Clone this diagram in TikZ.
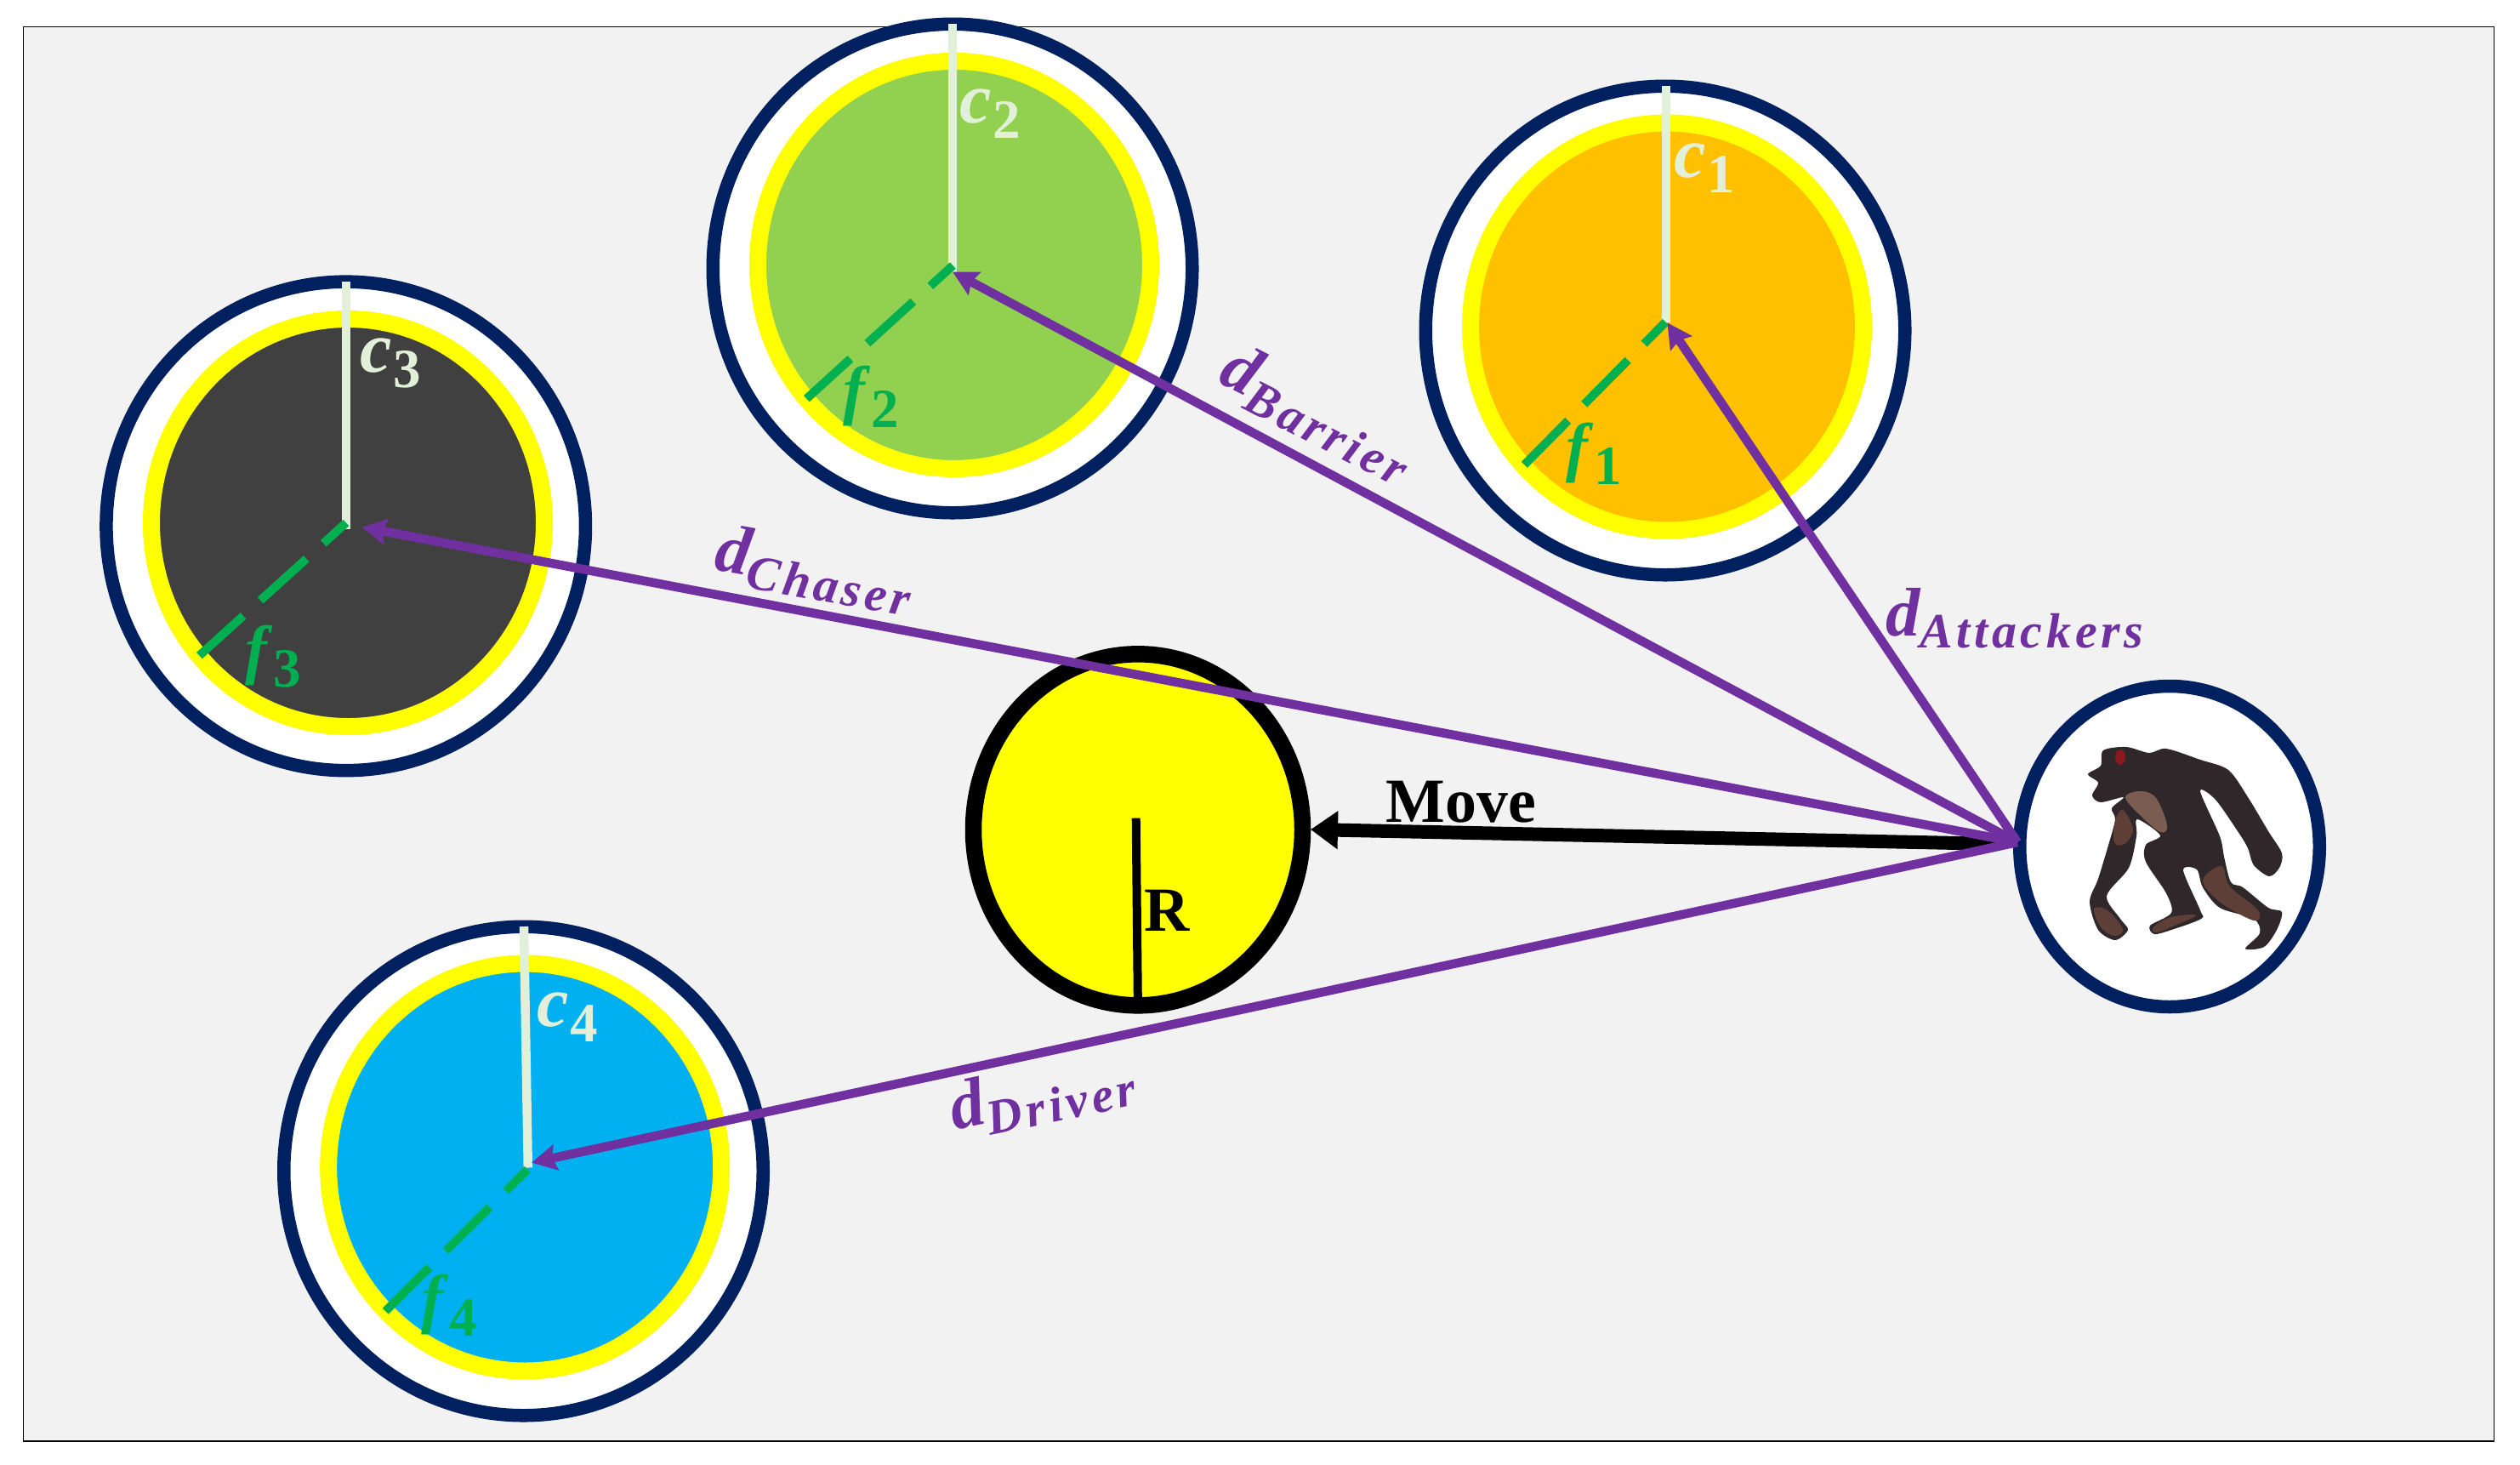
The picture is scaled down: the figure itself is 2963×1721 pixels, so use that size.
\documentclass[tikz,border=0pt]{standalone}
\usepackage{fontspec}
\setmainfont{Liberation Serif}
\newfontfamily\subfont[LetterSpace=8]{Liberation Serif}
\usetikzlibrary{shapes.geometric, arrows.meta}

\definecolor{navyline}{HTML}{002060}
\definecolor{ringcol}{RGB}{255,255,0}
\definecolor{capcol}{HTML}{E2F0D9}
\definecolor{fitcol}{HTML}{00B050}
\definecolor{distcol}{HTML}{7030A0}
\definecolor{backcol}{HTML}{F2F2F2}
\definecolor{attcol}{HTML}{FFC000}
\definecolor{barcol}{HTML}{92D050}
\definecolor{chacol}{HTML}{404040}
\definecolor{drvcol}{HTML}{00B0F0}
\definecolor{furcol}{HTML}{2F2729}
\definecolor{skincol}{HTML}{5E3F38}
\definecolor{chestcol}{HTML}{7A5C50}
\definecolor{earcol}{HTML}{8A1A20}

\newcommand{\smalllab}[2]{#1\raisebox{-10.5pt}{\hspace{1pt}\fontsize{37}{37}\selectfont\upshape #2}}
\newcommand{\distlab}[2]{#1\raisebox{-8.4pt}{\fontsize{33}{33}\subfont\bfseries\itshape #2}}

\tikzset{
  outerring/.style={ellipse, draw=navyline, line width=3.1mm, fill=white, inner sep=0pt, minimum width=112.7mm, minimum height=114.9mm},
  fieldring/.style={ellipse, draw=ringcol, line width=4mm, inner sep=0pt, minimum width=92.4mm, minimum height=95.8mm},
  capline/.style={draw=capcol, line width=2.1mm},
  fitline/.style={draw=fitcol, line width=2mm, dash pattern=on 14.6mm off 5.4mm, dash phase=7.4mm},
  distline/.style={draw=distcol, line width=2.1mm, -{Stealth[length=5.8mm, width=6mm, inset=0.8mm]}},
  caplab/.style={anchor=base west, inner sep=0pt, text=capcol, font=\fontsize{48}{50}\selectfont\bfseries\itshape},
  fitlab/.style={anchor=base west, inner sep=0pt, text=fitcol, font=\fontsize{44}{50}\selectfont\bfseries\itshape},
  distlab/.style={anchor=base west, inner sep=0pt, text=distcol, font=\fontsize{46}{50}\selectfont\bfseries\itshape},
  boldlab/.style={anchor=base west, inner sep=0pt, font=\fontsize{42}{46}\selectfont\bfseries}
}

\begin{document}
\begin{tikzpicture}[x=0.2mm, y=-0.2mm]
\useasboundingbox (0,0) rectangle (2963,1721);
\node[draw=black, line width=0.25mm, fill=backcol, inner sep=0pt, minimum width=581mm, minimum height=332.5mm] (frame) at (1480,862.7) {};

% attackers
\node[outerring] (outer1) at (1958,388.5) {};
\node[fieldring, fill=attcol] (field1) at (1960,384) {};
% barrier
\node[outerring] (outer2) at (1120,315.5) {};
\node[fieldring, fill=barcol] (field2) at (1122,311.4) {};
% chaser
\node[outerring] (outer3) at (406.7,618.4) {};
\node[fieldring, fill=chacol] (field3) at (409,614.5) {};
% driver
\node[outerring] (outer4) at (615.5,1376.5) {};
\node[fieldring, fill=drvcol] (field4) at (617.2,1372) {};

% prey and chimp
\node[ellipse, draw=black, line width=3.9mm, fill=ringcol, inner sep=0pt, minimum width=77.4mm, minimum height=82.6mm] (prey) at (1338,975.3) {};
\node[ellipse, draw=navyline, line width=3.1mm, fill=white, inner sep=0pt, minimum width=70.5mm, minimum height=75.4mm] (chimp) at (2551,995) {};

% chimp figure
\fill[furcol] plot[smooth cycle, tension=0.5] coordinates {(2473,882) (2500,878) (2527,885) (2547,880) (2587,893) (2620,905) (2643,937) (2667,977) (2683,1003) (2680,1020) (2668,1030) (2650,1017) (2643,997) (2633,980) (2605,940) (2587,930) (2610,983) (2615,1007) (2623,1037) (2637,1043) (2667,1067) (2683,1072) (2677,1093) (2662,1113) (2640,1115) (2657,1097) (2650,1080) (2610,1067) (2590,1043) (2583,1022) (2567,1023) (2587,1070) (2588,1080) (2553,1093) (2533,1098) (2528,1088) (2553,1073) (2547,1050) (2523,1013) (2523,993) (2540,982) (2513,963) (2512,983) (2503,1020) (2477,1053) (2493,1080) (2502,1093) (2487,1105) (2467,1093) (2457,1060) (2467,1033) (2480,990) (2487,963) (2483,950) (2497,937) (2470,943) (2460,935) (2467,920) (2455,910) (2470,900)};
\fill[chestcol] plot[smooth cycle, tension=0.6] coordinates {(2499,937) (2517,930) (2535,938) (2548,970) (2540,978) (2516,958)};
\fill[skincol] plot[smooth cycle, tension=0.6] coordinates {(2590,1035) (2612,1018) (2622,1042) (2655,1070) (2650,1082) (2610,1060)};
\fill[skincol] plot[smooth cycle, tension=0.6] coordinates {(2462,1068) (2478,1070) (2496,1092) (2486,1100) (2470,1090)};
\fill[skincol] plot[smooth cycle, tension=0.6] coordinates {(2532,1090) (2552,1078) (2582,1076) (2552,1090) (2535,1096)};
\fill[skincol] plot[smooth cycle, tension=0.6] coordinates {(2487,965) (2496,952) (2508,975) (2498,992) (2486,990)};
\fill[earcol] (2493,890) ellipse (6 and 9);

% moving direction
\coordinate (moveend) at (2350,992);
\coordinate (preyedge) at (1541,975);
\draw[draw=black, line width=3.2mm, -{Stealth[length=6.4mm, width=8.6mm, inset=0mm]}] (moveend) -- (preyedge);
\coordinate (preytop) at (1335.7,961.7);
\coordinate (preyfoot) at (1337.8,1174);
\draw[draw=black, line width=2mm] (preytop) -- (preyfoot);
\node[boldlab] (movelab) at (1629.6,966.7) {Move};
\node[boldlab] (rlab) at (1345,1094) {R};

% caps and fitness
\coordinate (cap1a) at (1959,100.5);
\coordinate (cap1b) at (1959,378.5);
\coordinate (fit1a) at (1958.4,378.5);
\coordinate (fit1b) at (1792,546.6);
\draw[capline] (cap1a) -- (cap1b);
\draw[fitline] (fit1a) -- (fit1b);
\coordinate (cap2a) at (1120,27.7);
\coordinate (cap2b) at (1120,319.5);
\coordinate (fit2a) at (1120.4,312);
\coordinate (fit2b) at (948.4,468.6);
\draw[capline] (cap2a) -- (cap2b);
\draw[fitline] (fit2a) -- (fit2b);
\coordinate (cap3a) at (406.8,330.6);
\coordinate (cap3b) at (406.8,622.4);
\coordinate (fit3a) at (407,614.5);
\coordinate (fit3b) at (234.4,770.6);
\draw[capline] (cap3a) -- (cap3b);
\draw[fitline] (fit3a) -- (fit3b);
\coordinate (cap4a) at (616,1089);
\coordinate (cap4b) at (620.8,1372.5);
\coordinate (fit4a) at (620.4,1374.5);
\coordinate (fit4b) at (453,1541.3);
\draw[capline] (cap4a) -- (cap4b);
\draw[fitline] (fit4a) -- (fit4b);

% distances
\coordinate (hub) at (2372,990);
\coordinate (tip1) at (1960.4,379.3);
\coordinate (tip2) at (1120,319.5);
\coordinate (tip3) at (425.4,619.6);
\coordinate (tip4) at (625,1366.6);
\draw[distline] (hub) -- (tip1);
\draw[distline] (hub) -- (tip2);
\draw[distline] (hub) -- (tip3);
\draw[distline] (hub) -- (tip4);

\node[caplab] (c1) at (1968,208.5) {\smalllab{c}{1}};
\node[caplab] (c2) at (1128,144) {\smalllab{c}{2}};
\node[caplab] (c3) at (423.4,437.3) {\smalllab{c}{3}};
\node[caplab] (c4) at (631,1206.4) {\smalllab{c}{4}};
\node[fitlab] (f1) at (1841,551) {\smalllab{f\kern3.4pt}{1}};
\node[fitlab] (f2) at (991,484) {\smalllab{f\kern3.4pt}{2}};
\node[fitlab] (f3) at (288,789.5) {\smalllab{f\kern3.4pt}{3}};
\node[fitlab] (f4) at (495,1552) {\smalllab{f\kern3.4pt}{4}};

\node[distlab] (datt) at (2216.7,747) {\distlab{d}{Attackers}};
\node[distlab, rotate=-27] (dbar) at (1430,448) {\distlab{d}{Barrier}};
\node[distlab, rotate=-10] (dcha) at (838,669) {\distlab{d}{Chaser}};
\node[distlab, rotate=12] (ddrv) at (1122,1329) {\distlab{d}{Driver}};
\end{tikzpicture}
\end{document}
